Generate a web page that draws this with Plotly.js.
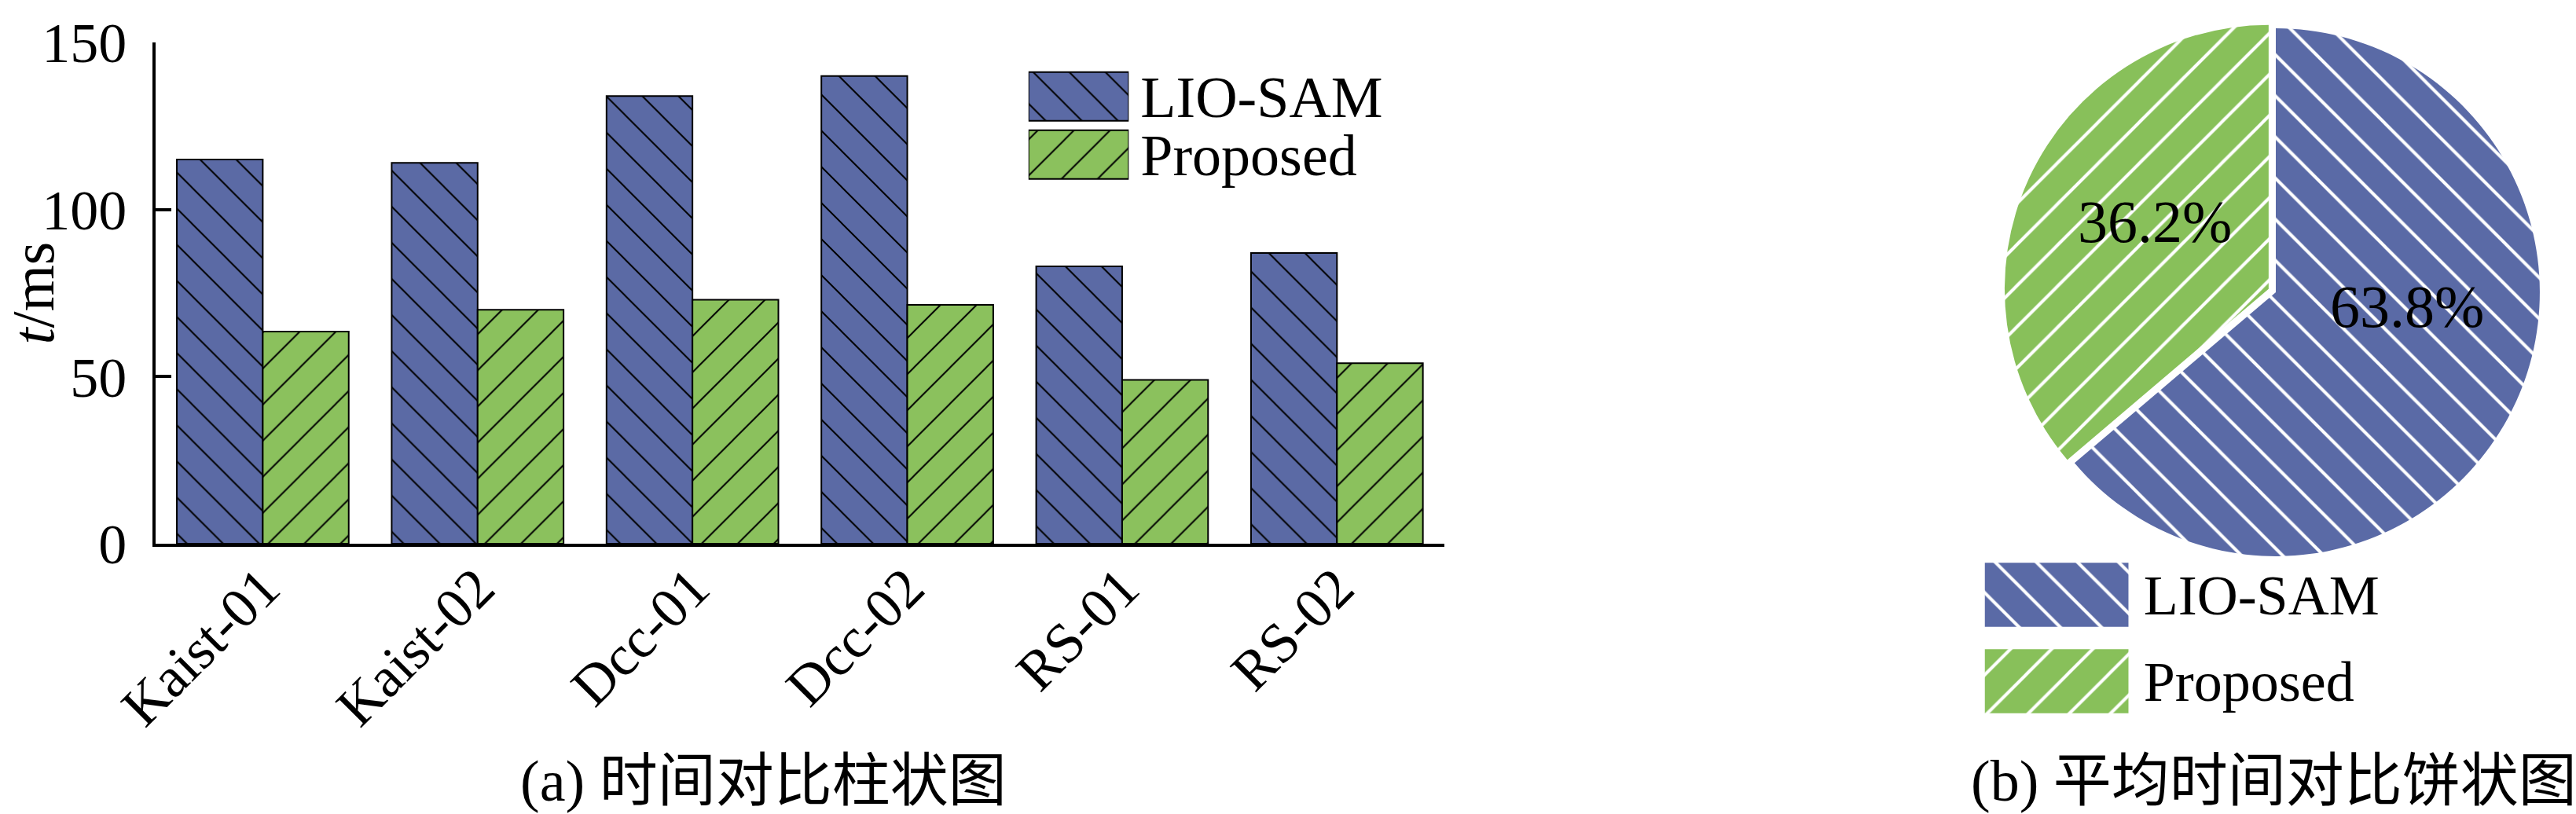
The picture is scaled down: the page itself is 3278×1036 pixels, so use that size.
<!DOCTYPE html>
<html><head><meta charset="utf-8">
<script src="https://cdn.plot.ly/plotly-3.0.1.min.js"></script>
<style>html,body{margin:0;padding:0;background:#fff;} #chart{width:3278px;height:1036px;}</style>
</head><body><div id="chart"></div>
<script>
// ---- data ----
const datasets = ['Kaist-01', 'Kaist-02', 'Dcc-01', 'Dcc-02', 'RS-01', 'RS-02'];
const seriesNames = ['LIO-SAM', 'Proposed'];
const lioSamTimes = [115, 114, 134, 140, 83, 87];
const proposedTimes = [63.5, 70, 73, 71.5, 49, 54];
const yTickValues = [0, 50, 100, 150];
const pieShares = [63.8, 36.2];
const legendUnit = [1];
const captionA = '(a) 时间对比柱状图';
const captionB = '(b) 平均时间对比饼状图';
const yTitle = '<i>t</i>/ms';

// ---- styles ----
const barColors = ['#5b6aa5', '#8bc15d'];
const pieColors = ['#5a6aa6', '#88c05a'];
const hatch = ['\\', '/'];
const W = 3278, H = 1036;
const fx = p => p / W;
const fy = p => 1 - p / H;
const serif = 'Liberation Serif, Times New Roman, serif';
const capFont = 'Liberation Serif, Noto Sans CJK SC, serif';

const barPattern = i => ({shape: hatch[i], bgcolor: barColors[i], fgcolor: '#000', size: 32.5, solidity: 0.06, fillmode: 'replace'});
const piePattern = i => ({shape: hatch[i], bgcolor: pieColors[i], fgcolor: '#ffffff', size: 37, solidity: 0.11, fillmode: 'replace'});

const traces = [
  {type: 'bar', name: seriesNames[0], x: datasets, y: lioSamTimes,
   marker: {color: barColors[0], line: {color: '#000', width: 2}, pattern: barPattern(0)}},
  {type: 'bar', name: seriesNames[1], x: datasets, y: proposedTimes,
   marker: {color: barColors[1], line: {color: '#000', width: 2}, pattern: barPattern(1)}},
  // pie
  {type: 'pie', labels: seriesNames, values: pieShares, sort: false, direction: 'clockwise', rotation: 0,
   pull: [0, 0.03],
   domain: {x: [fx(2550), fx(3242)], y: [fy(718), fy(26)]},
   marker: {colors: pieColors, line: {width: 0},
            pattern: {shape: hatch, bgcolor: pieColors, fgcolor: '#ffffff', size: 37, solidity: 0.11, fillmode: 'replace'}},
   textinfo: 'none', hoverinfo: 'skip'}
];
// legend swatches (one trace per series, each on its own small axis pair)
seriesNames.forEach((nm, i) => {
  traces.push({type: 'bar', orientation: 'h', y: [nm], x: legendUnit, xaxis: 'x3', yaxis: 'y3',
    width: 0.84, offset: -0.42,
    marker: {color: barColors[i], line: {color: '#000', width: 2}, pattern: barPattern(i)}});
  traces.push({type: 'bar', orientation: 'h', y: [nm], x: legendUnit, xaxis: 'x4', yaxis: 'y4',
    width: 0.74, offset: -0.37,
    marker: {color: pieColors[i], line: {width: 0}, pattern: piePattern(i)}});
});

const pieLabelPos = [[3063, 390], [2742, 282]];
const annotations = [
  {text: captionA, xref: 'paper', yref: 'paper', x: fx(660), y: fy(994), xanchor: 'left', yanchor: 'middle',
   showarrow: false, font: {family: capFont, size: 74, color: '#000'}},
  {text: captionB, xref: 'paper', yref: 'paper', x: fx(2506), y: fy(994), xanchor: 'left', yanchor: 'middle',
   showarrow: false, font: {family: capFont, size: 74, color: '#000'}}
];
pieShares.forEach((v, i) => annotations.push({
  text: v.toFixed(1) + '%', xref: 'paper', yref: 'paper', x: fx(pieLabelPos[i][0]), y: fy(pieLabelPos[i][1]),
  xanchor: 'center', yanchor: 'middle', showarrow: false, font: {family: serif, size: 76, color: '#000'}}));

const layout = {
  width: W, height: H, margin: {l: 0, r: 0, t: 0, b: 0},
  paper_bgcolor: '#fff', plot_bgcolor: 'rgba(0,0,0,0)', showlegend: false,
  barmode: 'group', bargap: 0.2, bargroupgap: 0,
  font: {family: serif, color: '#000', size: 72},
  xaxis: {domain: [fx(197.7), fx(1838)], type: 'category', range: [-0.5, 5.5], automargin: false,
          showline: true, linecolor: '#000', linewidth: 4, ticks: '', showgrid: false, zeroline: false,
          tickangle: -45, ticklabelstandoff: -19, tickfont: {family: serif, size: 72, color: '#000'}, anchor: 'y'},
  yaxis: {domain: [fy(691.9), fy(54.2)], range: [0, 150], tickvals: yTickValues, automargin: false,
          showline: true, linecolor: '#000', linewidth: 4, ticks: 'inside', ticklen: 20, tickwidth: 4, tickcolor: '#000',
          showgrid: false, zeroline: false, ticklabelstandoff: 18,
          tickfont: {family: serif, size: 72, color: '#000'},
          title: {text: yTitle, font: {family: serif, size: 76, color: '#000'}, standoff: 8}, anchor: 'x'},
  xaxis3: {domain: [fx(1308.8), fx(1436.3)], range: [0, 1], visible: false, anchor: 'y3', fixedrange: true},
  yaxis3: {domain: [fy(233.7), fy(85.8)], type: 'category', autorange: 'reversed', side: 'right', anchor: 'x3',
           tickmode: 'array', tickvals: seriesNames, ticktext: seriesNames,
           showline: false, ticks: '', showgrid: false, zeroline: false, ticklabelstandoff: 14, automargin: false,
           tickfont: {family: serif, size: 74, color: '#000'}},
  xaxis4: {domain: [fx(2525.5), fx(2708.7)], range: [0, 1], visible: false, anchor: 'y4', fixedrange: true},
  yaxis4: {domain: [fy(922), fy(702)], type: 'category', autorange: 'reversed', side: 'right', anchor: 'x4',
           tickmode: 'array', tickvals: seriesNames, ticktext: seriesNames,
           showline: false, ticks: '', showgrid: false, zeroline: false, ticklabelstandoff: 18, automargin: false,
           tickfont: {family: serif, size: 72, color: '#000'}},
  annotations: annotations
};

Plotly.newPlot('chart', traces, layout, {displayModeBar: false, staticPlot: true});
</script>
</body></html>
